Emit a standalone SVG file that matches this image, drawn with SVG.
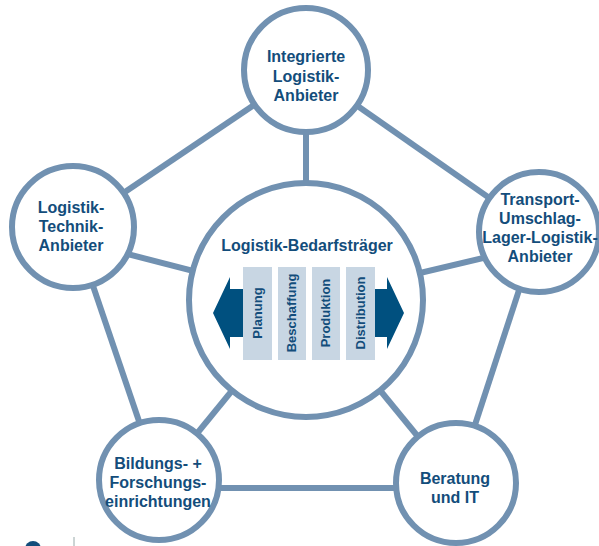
<svg xmlns="http://www.w3.org/2000/svg" width="599" height="546" viewBox="0 0 599 546">
<style>
.ln{stroke:#7191b1;stroke-width:6;fill:none}
.nd{fill:#fff;stroke:#7191b1;stroke-width:6}
.t{font-family:"Liberation Sans",Arial,sans-serif;font-weight:bold;font-size:16px;fill:#134d7b;text-anchor:middle}
.bar{fill:#c8d6e3}
.bt{font-family:"Liberation Sans",Arial,sans-serif;font-weight:bold;font-size:13px;fill:#134d7b;text-anchor:middle}
.arr{fill:#00507f}
</style>
<rect width="599" height="546" fill="#fff"/>
<g id="connectors">
<line class="ln" x1="306" y1="70" x2="73" y2="227"/>
<line class="ln" x1="306" y1="70" x2="538" y2="232"/>
<line class="ln" x1="73" y1="227" x2="159" y2="480"/>
<line class="ln" x1="538" y1="232" x2="456" y2="483"/>
<line class="ln" x1="159" y1="488" x2="456" y2="488"/>
<line class="ln" x1="306" y1="70" x2="306" y2="300"/>
<line class="ln" x1="73" y1="240" x2="306" y2="300"/>
<line class="ln" x1="538" y1="245" x2="306" y2="300"/>
<line class="ln" x1="159" y1="480" x2="306" y2="300"/>
<line class="ln" x1="456" y1="483" x2="306" y2="300"/>
</g>
<g id="center">
<circle class="nd" cx="306" cy="300" r="117"/>
<text class="t" x="307" y="251">Logistik-Bedarfsträger</text>
<path class="arr" d="M243,289 H230 V277 L213,313 L230,349 V337 H243 Z"/>
<path class="arr" d="M375,289 H387 V277 L404,313 L387,349 V337 H375 Z"/>
<rect class="bar" x="243" y="267" width="29" height="93"/>
<rect class="bar" x="278" y="267" width="28" height="93"/>
<rect class="bar" x="312" y="267" width="28" height="93"/>
<rect class="bar" x="346" y="267" width="29" height="93"/>
<text class="bt" transform="translate(262,313) rotate(-90)">Planung</text>
<text class="bt" transform="translate(296,313) rotate(-90)">Beschaffung</text>
<text class="bt" transform="translate(330,313) rotate(-90)">Produktion</text>
<text class="bt" transform="translate(365,313) rotate(-90)">Distribution</text>
</g>
<g id="top">
<circle class="nd" cx="306" cy="70" r="62"/>
<text class="t" x="306" y="62">Integrierte</text>
<text class="t" x="306" y="82">Logistik-</text>
<text class="t" x="306" y="101">Anbieter</text>
</g>
<g id="left">
<circle class="nd" cx="73" cy="227" r="61"/>
<text class="t" x="71" y="213">Logistik-</text>
<text class="t" x="71" y="232">Technik-</text>
<text class="t" x="71" y="251">Anbieter</text>
</g>
<g id="right">
<circle class="nd" cx="539" cy="232" r="60"/>
<text class="t" x="540" y="205">Transport-</text>
<text class="t" x="540" y="224">Umschlag-</text>
<text class="t" x="540" y="243">Lager-Logistik-</text>
<text class="t" x="540" y="262">Anbieter</text>
</g>
<g id="bottomleft">
<circle class="nd" cx="159" cy="480" r="60"/>
<text class="t" x="158" y="469">Bildungs- +</text>
<text class="t" x="158" y="488">Forschungs-</text>
<text class="t" x="158" y="507">einrichtungen</text>
</g>
<g id="bottomright">
<circle class="nd" cx="456" cy="483" r="60"/>
<text class="t" x="455" y="484">Beratung</text>
<text class="t" x="455" y="503">und IT</text>
</g>
<circle cx="33" cy="549" r="8" fill="#134d7b"/>
<line x1="74" y1="537" x2="74" y2="546" stroke="#9aa" stroke-width="1"/>
</svg>
